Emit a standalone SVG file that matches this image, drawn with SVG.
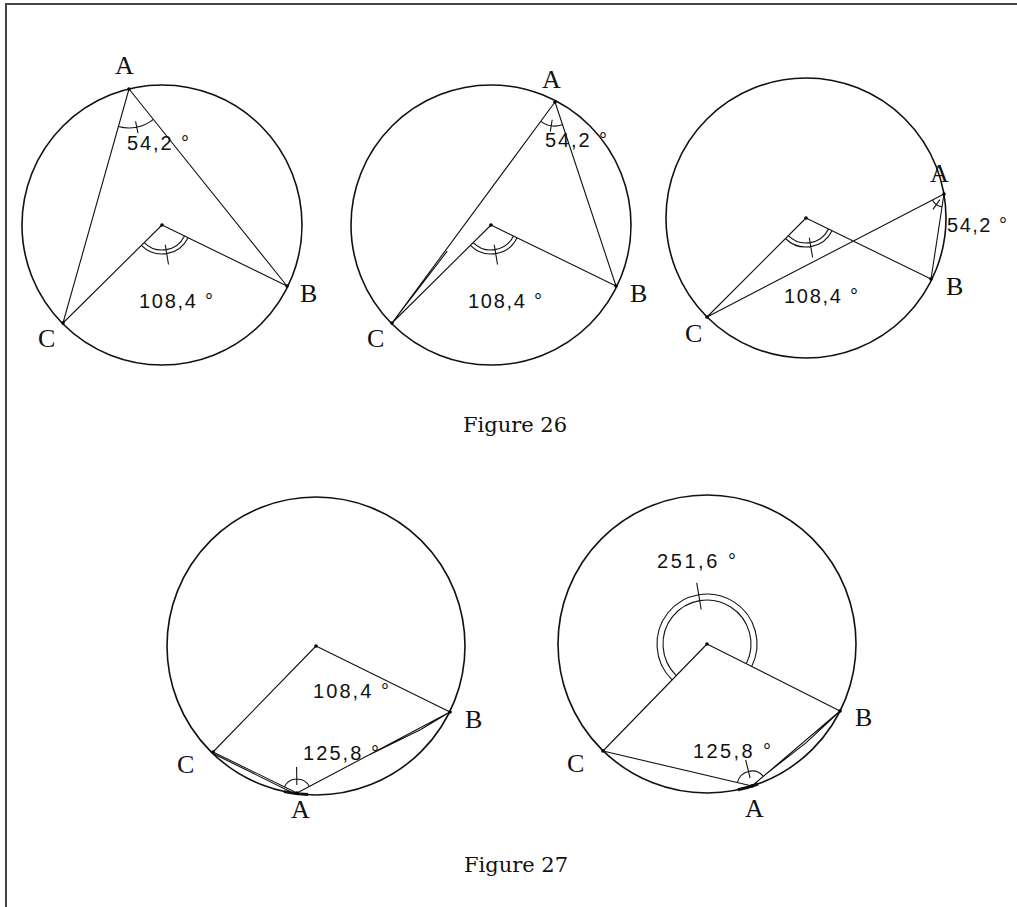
<svg xmlns="http://www.w3.org/2000/svg" width="1017" height="907" viewBox="0 0 1017 907">
<style>
.c{fill:none;stroke:#111;stroke-width:1.6}
.l{fill:none;stroke:#111;stroke-width:1.1}
.t{fill:none;stroke:#111;stroke-width:3}
.p{fill:#000}
.lbl{font-family:"Liberation Serif",serif;font-size:26px;fill:#111}
.deg{font-family:"Liberation Sans",Arial,sans-serif;font-size:20px;fill:#111}
.cap{font-family:"DejaVu Serif","Liberation Serif",serif;font-size:21px;fill:#111}
</style>
<rect width="1017" height="907" fill="#fff"/>
<path d="M6,907 L6,4 L1017,4" fill="none" stroke="#444" stroke-width="2"/>

<g id="fig26-1">
<circle class="c" cx="162" cy="225" r="140"/>
<g class="l">
<path d="M129,89 L63,323 M129,89 L287,286 M162,225 L63,323 M162,225 L287,286"/>
<path d="M184.48,235.94 A25,25 0 0 1 144.23,242.58 M188.07,237.70 A29,29 0 0 1 141.39,245.40 M165.26,244.73 L168.51,264.47"/>
<path d="M153.40,119.42 A39,39 0 0 1 118.41,126.54 M135.57,121.34 L137.96,133.10"/>
</g>
<g class="p"><circle cx="129" cy="89" r="1.8"/><circle cx="287" cy="286" r="1.8"/><circle cx="63" cy="323" r="1.8"/><circle cx="162" cy="225" r="1.8"/></g>
<text class="lbl" x="115" y="74">A</text>
<text class="lbl" x="300" y="302">B</text>
<text class="lbl" x="38" y="347">C</text>
<text class="deg" x="127" y="150" textLength="62">54,2 °</text>
<text class="deg" x="139" y="308" textLength="74">108,4 °</text>
</g>

<g id="fig26-2">
<circle class="c" cx="491" cy="225" r="140"/>
<g class="l">
<path d="M555,102 L392,323 M555,102 L616,286 M491,225 L392,323 M491,225 L616,286 M392,323 L447.2,251.2"/>
<path d="M513.48,235.94 A25,25 0 0 1 473.23,242.58 M517.07,237.70 A29,29 0 0 1 470.39,245.40 M494.26,244.73 L497.51,264.47"/>
<path d="M562.55,124.78 A24,24 0 0 1 540.76,121.32 M552.17,119.78 L550.29,131.63"/>
</g>
<g class="p"><circle cx="555" cy="102" r="1.8"/><circle cx="616" cy="286" r="1.8"/><circle cx="392" cy="323" r="1.8"/><circle cx="491" cy="225" r="1.8"/></g>
<text class="lbl" x="542" y="88">A</text>
<text class="lbl" x="630" y="302">B</text>
<text class="lbl" x="367" y="347">C</text>
<text class="deg" x="545" y="147" textLength="62">54,2 °</text>
<text class="deg" x="468" y="308" textLength="74">108,4 °</text>
</g>

<g id="fig26-3">
<circle class="c" cx="806" cy="218" r="140"/>
<g class="l">
<path d="M806,218 L707,317 M806,218 L931,279 M707,317 L944,194 M931,279 L944,194"/>
<path d="M828.47,228.96 A25,25 0 0 1 788.32,235.68 M832.06,230.72 A29,29 0 0 1 785.49,238.51 M809.30,237.73 L812.60,257.45"/>
<path d="M942.03,206.85 A13,13 0 0 1 932.46,199.98 M939.92,199.69 L932.92,209.44"/>
</g>
<g class="p"><circle cx="944" cy="194" r="1.8"/><circle cx="931" cy="279" r="1.8"/><circle cx="707" cy="317" r="1.8"/><circle cx="806" cy="218" r="1.8"/></g>
<text class="lbl" x="930" y="182">A</text>
<text class="lbl" x="946" y="295">B</text>
<text class="lbl" x="685" y="342">C</text>
<text class="deg" x="947" y="232" textLength="60">54,2 °</text>
<text class="deg" x="784" y="303" textLength="74">108,4 °</text>
</g>

<g id="fig27-1">
<circle class="c" cx="316" cy="646" r="149"/>
<g class="l">
<path d="M316,646 L213,752 M316,646 L450,712 M213,752 L297,793 M297,793 L450,712 M214,754 L294,793.5 M370,754.4 L420.8,729.5 L450,712"/>
<path d="M284.42,786.86 A14,14 0 0 1 309.37,786.45 M296.87,785 L296.57,767"/>
</g>
<path class="t" d="M284,791.6 A149,149 0 0 0 308,794.6"/>
<g class="p"><circle cx="297" cy="793" r="1.8"/><circle cx="450" cy="712" r="1.8"/><circle cx="213" cy="752" r="1.8"/><circle cx="316" cy="646" r="1.8"/></g>
<text class="lbl" x="291" y="818">A</text>
<text class="lbl" x="465" y="728">B</text>
<text class="lbl" x="177" y="773">C</text>
<text class="deg" x="313" y="698" textLength="76">108,4 °</text>
<text class="deg" x="303" y="760" textLength="76">125,8 °</text>
</g>

<g id="fig27-2">
<circle class="c" cx="707" cy="644" r="149"/>
<g class="l">
<path d="M707,644 L603,751 M707,644 L840,711 M603,751 L752,786 M752,786 L840,711 M766,774 L806.2,742.7 L838,713"/>
<path d="M746.29,663.80 A44,44 0 1 0 676.33,675.55 M751.65,666.50 A50,50 0 1 0 672.15,679.86 M701.20,609.48 L696.73,582.86"/>
<path d="M737.40,782.57 A15,15 0 0 1 763.42,776.27 M750.12,778.22 L745.65,759.76"/>
</g>
<path class="t" d="M738,789.7 A149,149 0 0 0 758,784"/>
<g class="p"><circle cx="752" cy="786" r="1.8"/><circle cx="840" cy="711" r="1.8"/><circle cx="603" cy="751" r="1.8"/><circle cx="707" cy="644" r="1.8"/></g>
<text class="lbl" x="745" y="817">A</text>
<text class="lbl" x="855" y="726">B</text>
<text class="lbl" x="567" y="772">C</text>
<text class="deg" x="657" y="568" textLength="79">251,6 °</text>
<text class="deg" x="693" y="758" textLength="78">125,8 °</text>
</g>

<text id="cap26" class="cap" x="463" y="432" textLength="104">Figure 26</text>
<text id="cap27" class="cap" x="464" y="872" textLength="104">Figure 27</text>
</svg>
